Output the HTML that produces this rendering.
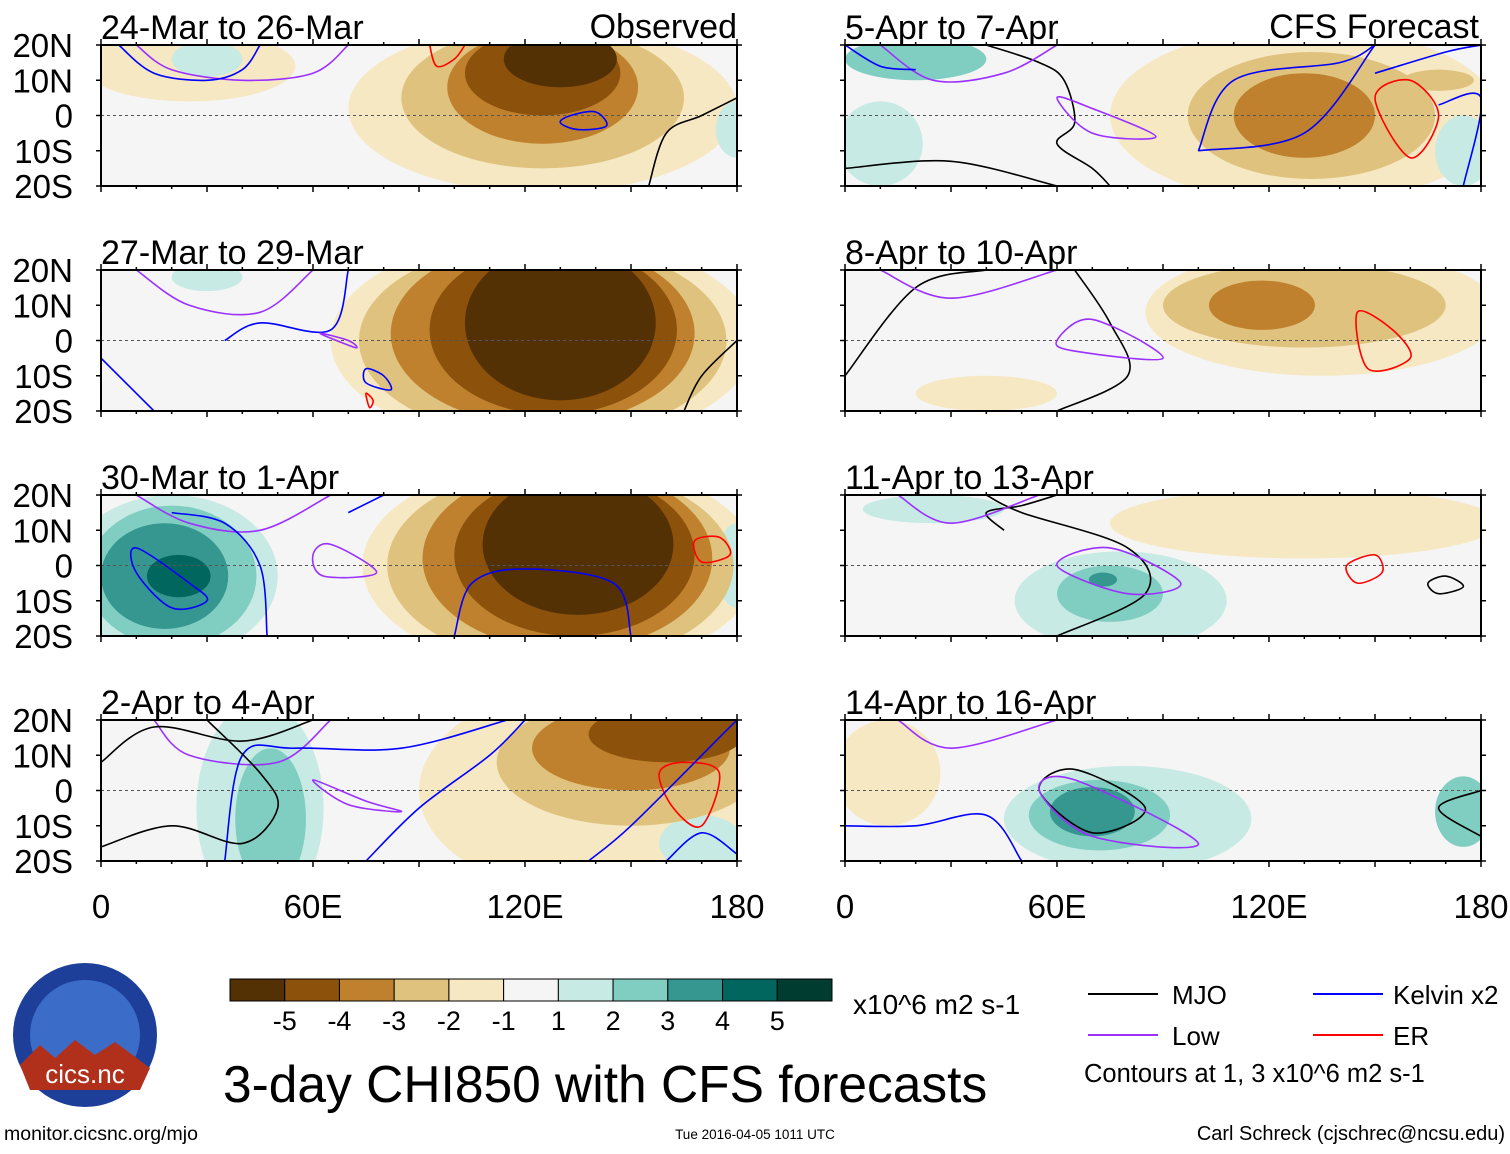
<!DOCTYPE html>
<html><head><meta charset="utf-8">
<style>
body{margin:0;background:#fff;width:1510px;height:1149px;overflow:hidden;font-family:"Liberation Sans",sans-serif}
svg text{font-family:"Liberation Sans",sans-serif}
</style></head>
<body>
<svg id="fig" width="1510" height="1149" viewBox="0 0 1510 1149" xmlns="http://www.w3.org/2000/svg"></svg>
<script>
const levelColors=["#543005","#8c510a","#bf812d","#dfc27d","#f6e8c3","#f5f5f5","#c7eae5","#80cdc1","#35978f","#01665e","#003c30"];
const colorbarLabels=["-5","-4","-3","-2","-1","1","2","3","4","5"];
const panelTitles=["24-Mar to 26-Mar","27-Mar to 29-Mar","30-Mar to 1-Apr","2-Apr to 4-Apr","5-Apr to 7-Apr","8-Apr to 10-Apr","11-Apr to 13-Apr","14-Apr to 16-Apr"];
const latTicks=[20,10,0,-10,-20];
const latLabels=["20N","10N","0","10S","20S"];
const lonTicks=[0,60,120,180];
const lonLabels=["0","60E","120E","180"];
const blobs0=[[25,14,30,10,-1],[125,2,55,24,-1],[125,5,40,20,-2],[125,8,27,16,-3],[125,12,22,12,-4],[130,16,16,8,-5],[30,16,10,5,1],[180,-4,6,8,1]];
const blobs1=[[125,0,60,30,-1],[125,0,52,28,-2],[125,2,43,26,-3],[128,3,35,24,-4],[130,5,27,22,-5],[30,18,10,4,1]];
const blobs2=[[20,-3,30,23,1],[20,-3,24,20,2],[18,-3,18,15,3],[22,-3,9,6,4],[130,0,56,30,-1],[130,0,49,28,-2],[132,2,41,26,-3],[134,3,34,23,-4],[135,6,27,20,-5],[180,0,6,12,1]];
const blobs3=[[45,-5,18,30,1],[48,-8,10,20,2],[140,0,50,30,-1],[150,8,38,18,-2],[150,12,28,12,-3],[160,16,22,8,-4],[170,-15,12,8,1]];
const blobs4=[[130,0,55,25,-1],[132,0,35,18,-2],[130,0,20,12,-3],[20,16,20,6,2],[10,-8,12,12,1],[175,-10,8,10,1],[168,10,10,3,-2]];
const blobs5=[[135,8,50,18,-1],[130,10,40,12,-2],[118,10,15,7,-3],[40,-15,20,5,-1]];
const blobs6=[[78,-10,30,14,1],[75,-8,15,8,2],[73,-4,4,2,3],[130,12,55,10,-1],[25,16,20,4,1]];
const blobs7=[[80,-8,35,15,1],[72,-7,20,10,2],[70,-6,12,7,3],[12,5,15,15,-1],[175,-6,8,10,2],[175,-5,6,6,1]];
const panelBlobs=[blobs0,blobs1,blobs2,blobs3,blobs4,blobs5,blobs6,blobs7];
const lines0=[["low",[[10,20],[20,13],[40,10],[60,12],[70,20]]],["kel",[[5,20],[15,12],[30,10],[40,13],[45,20]]],["kel",[[130,-2],[135,-4],[143,-3],[140,1],[133,0],[130,-2]]],["mjo",[[180,5],[170,0],[160,-5],[155,-20]]],["er",[[93,20],[95,14],[100,16],[103,20]]]];
const lines1=[["low",[[10,20],[25,10],[45,8],[60,20]]],["kel",[[0,-5],[15,-20]]],["kel",[[35,0],[45,5],[65,3],[70,20]]],["low",[[62,2],[70,0],[72,-2],[62,2]]],["kel",[[75,-8],[80,-10],[82,-14],[75,-12],[75,-8]]],["mjo",[[180,0],[170,-10],[165,-20]]],["er",[[75,-15],[77,-17],[76,-19],[75,-15]]]];
const lines2=[["low",[[10,20],[25,12],[45,10],[65,20]]],["kel",[[10,5],[25,-5],[30,-10],[20,-12],[10,-2],[10,5]]],["kel",[[20,15],[35,12],[45,0],[47,-20]]],["kel",[[70,15],[80,20]]],["kel",[[100,-20],[105,-5],[120,-1],[145,-5],[150,-20]]],["low",[[60,3],[65,6],[78,-2],[63,-3],[60,3]]],["er",[[168,7],[175,8],[178,3],[170,1],[168,7]]]];
const lines3=[["low",[[15,20],[25,10],[50,8],[65,20]]],["kel",[[35,-20],[40,10],[55,12],[85,12],[115,20]]],["kel",[[75,-20],[90,-5],[110,10],[120,20]]],["mjo",[[0,-16],[20,-10],[40,-15],[50,-5],[45,5],[30,20]]],["mjo",[[0,8],[15,18],[40,14],[60,20]]],["low",[[60,3],[75,-3],[85,-6],[70,-4],[60,3]]],["er",[[158,5],[165,8],[175,5],[170,-10],[162,-5],[158,5]]],["kel",[[138,-20],[150,-10],[175,15],[180,20]]],["kel",[[160,-20],[170,-12],[180,-18]]]];
const lines4=[["mjo",[[0,-15],[30,-13],[60,-20]]],["mjo",[[40,20],[55,15],[62,10],[65,-2],[60,-8],[70,-15],[75,-20]]],["low",[[10,20],[25,10],[45,12],[60,20]]],["low",[[60,5],[70,2],[88,-6],[70,-5],[60,5]]],["kel",[[0,20],[10,14],[20,13]]],["kel",[[100,-10],[110,10],[140,15],[150,20]]],["kel",[[100,-10],[130,-5],[150,20]]],["kel",[[150,12],[170,18],[180,20]]],["kel",[[168,3],[180,5],[175,-20]]],["er",[[150,5],[160,10],[168,0],[160,-12],[150,5]]]];
const lines5=[["mjo",[[0,-10],[20,15],[40,20]]],["mjo",[[60,-20],[80,-10],[75,5],[65,20]]],["low",[[10,20],[30,12],[60,20]]],["low",[[60,0],[70,6],[90,-5],[65,-3],[60,0]]],["er",[[145,8],[155,3],[160,-5],[148,-8],[145,8]]]];
const lines6=[["mjo",[[40,20],[50,15],[80,5],[85,-8],[60,-20]]],["mjo",[[45,10],[40,15],[50,17],[60,20]]],["low",[[15,20],[30,12],[55,20]]],["low",[[60,0],[75,5],[95,-5],[80,-8],[60,0]]],["er",[[142,0],[150,3],[152,-2],[145,-5],[142,0]]],["mjo",[[165,-5],[170,-3],[175,-6],[168,-8],[165,-5]]]];
const lines7=[["low",[[15,20],[30,12],[60,20]]],["mjo",[[55,0],[65,6],[85,-5],[70,-12],[55,0]]],["low",[[55,0],[65,3],[100,-15],[70,-13],[55,0]]],["kel",[[0,-10],[20,-10],[40,-7],[50,-20]]],["mjo",[[180,0],[168,-5],[180,-13]]]];
const panelLines=[lines0,lines1,lines2,lines3,lines4,lines5,lines6,lines7];
const lineColors={mjo:"#000000",low:"#9b30ff",kel:"#0000ff",er:"#ff0000"};

const NS="http://www.w3.org/2000/svg";
const svg=document.getElementById('fig');
function mk(tag,attrs,parent){const e=document.createElementNS(NS,tag);for(const k in attrs)e.setAttribute(k,attrs[k]);(parent||svg).appendChild(e);return e;}
const PW=636,PH=141;
const colX=[101,845],rowY=[45,270,495,720];
function xS(x0,lon){return x0+lon/180*PW;}
function yS(y0,lat){return y0+(20-lat)/40*PH;}
function smooth(pts,closed){
  const n=pts.length;let d='M'+pts[0][0].toFixed(1)+','+pts[0][1].toFixed(1);
  for(let i=0;i<n-1;i++){
    const p0=pts[i>0?i-1:(closed?n-2:0)],p1=pts[i],p2=pts[i+1],p3=pts[i+2<n?i+2:(closed?1:n-1)];
    const c1=[p1[0]+(p2[0]-p0[0])/6,p1[1]+(p2[1]-p0[1])/6],c2=[p2[0]-(p3[0]-p1[0])/6,p2[1]-(p3[1]-p1[1])/6];
    d+=' C'+c1[0].toFixed(1)+','+c1[1].toFixed(1)+' '+c2[0].toFixed(1)+','+c2[1].toFixed(1)+' '+p2[0].toFixed(1)+','+p2[1].toFixed(1);
  }
  return d;
}
for(let p=0;p<8;p++){
  const x0=colX[p<4?0:1],y0=rowY[p%4];
  const g=mk('g',{});
  
  
  const cid='clip'+p;
  const cp=mk('clipPath',{id:cid},g);mk('rect',{x:x0,y:y0,width:PW,height:PH},cp);
  mk('rect',{x:x0,y:y0,width:PW,height:PH,fill:levelColors[5]},g);
  const fg=mk('g',{'clip-path':'url(#'+cid+')'},g);
  const bl=panelBlobs[p].slice().sort((a,b)=>Math.abs(a[4])-Math.abs(b[4]));
  bl.forEach(b=>{
    const e=mk('ellipse',{cx:xS(x0,b[0]),cy:yS(y0,b[1]),rx:b[2]/180*PW,ry:b[3]/40*PH,fill:levelColors[b[4]+5]},fg);
    
    
  });
  mk('line',{x1:x0,x2:x0+PW,y1:yS(y0,0),y2:yS(y0,0),stroke:'#555','stroke-dasharray':'3,3','stroke-width':1},fg);
  panelLines[p].forEach(l=>{
    const pts=l[1].map(q=>[xS(x0,q[0]),yS(y0,q[1])]);
    const first=l[1][0],last=l[1][l[1].length-1];
    const closed=first[0]==last[0]&&first[1]==last[1];
    const pa=mk('path',{d:smooth(pts,closed),fill:'none',stroke:lineColors[l[0]],'stroke-width':1.6,'stroke-linejoin':'round'},fg);
    
    
  });
  mk('rect',{x:x0,y:y0,width:PW,height:PH,fill:'none',stroke:'#000','stroke-width':2},g);
  for(let lon=0;lon<=180;lon+=10){const x=xS(x0,lon),L=lon%30==0?6:3;mk('line',{x1:x,x2:x,y1:y0,y2:y0-L,stroke:'#000','stroke-width':1.5},g);mk('line',{x1:x,x2:x,y1:y0+PH,y2:y0+PH+L,stroke:'#000','stroke-width':1.5},g);}
  latTicks.forEach(t=>{const y=yS(y0,t);mk('line',{x1:x0-5,x2:x0,y1:y,y2:y,stroke:'#000','stroke-width':1.5},g);mk('line',{x1:x0+PW,x2:x0+PW+5,y1:y,y2:y,stroke:'#000','stroke-width':1.5},g);});
  const t=mk('text',{x:x0,y:y0-6,'font-size':34},g);t.textContent=panelTitles[p];
  
  if(p<4){latTicks.forEach((v,i)=>{const tt=mk('text',{x:73,y:yS(y0,v)+12,'font-size':33,'text-anchor':'end'},g);tt.textContent=latLabels[i];
    });}
  if(p%4==3){lonTicks.forEach((v,i)=>{const tt=mk('text',{x:xS(x0,v),y:918,'font-size':33,'text-anchor':'middle'},g);tt.textContent=lonLabels[i];
    });}
}
const o1=mk('text',{x:737,y:38,'font-size':34,'text-anchor':'end'});o1.textContent='Observed';

const o2=mk('text',{x:1479,y:38,'font-size':34,'text-anchor':'end'});o2.textContent='CFS Forecast';


const cb=mk('g',{});
const cw=602/11;
levelColors.forEach((c,i)=>{mk('rect',{x:230+i*cw,y:979,width:cw,height:22,fill:c,stroke:'#000','stroke-width':1},cb);});
colorbarLabels.forEach((s,i)=>{const t=mk('text',{x:230+(i+1)*cw,y:1030,'font-size':27,'text-anchor':'middle'},cb);t.textContent=s;});
const un=mk('text',{x:853,y:1014,'font-size':28});un.textContent='x10^6 m2 s-1';

const ti=mk('text',{x:223,y:1102,'font-size':51.5});ti.textContent='3-day CHI850 with CFS forecasts';

const lg=mk('g',{});
[["MJO","mjo",1088,1172,994],["Low","low",1088,1172,1035],["Kelvin x2","kel",1313,1393,994],["ER","er",1313,1393,1035]].forEach(a=>{
  mk('line',{x1:a[2],x2:a[2]+70,y1:a[4],y2:a[4],stroke:lineColors[a[1]],'stroke-width':2},lg);
  const t=mk('text',{x:a[3],y:a[4]+10,'font-size':26},lg);t.textContent=a[0];});
const ct=mk('text',{x:1084,y:1082,'font-size':25.5},lg);ct.textContent='Contours at 1, 3 x10^6 m2 s-1';
const lo=mk('g',{});
mk('circle',{cx:85,cy:1035,r:72,fill:'#1d3f9a'},lo);
mk('circle',{cx:85,cy:1035,r:55,fill:'#3a6cc8'},lo);
mk('path',{d:'M20,1065 L40,1045 L55,1058 L75,1040 L95,1055 L115,1042 L150,1068 L140,1090 L30,1090 Z',fill:'#b0301c'},lo);
const lt=mk('text',{x:85,y:1083,'font-size':26,fill:'#fff','text-anchor':'middle'},lo);lt.textContent='cics.nc';
const f1=mk('text',{x:4,y:1140,'font-size':19.5});f1.textContent='monitor.cicsnc.org/mjo';

const f2=mk('text',{x:755,y:1139,'font-size':13.5,'text-anchor':'middle'});f2.textContent='Tue 2016-04-05 1011 UTC';

const f3=mk('text',{x:1505,y:1140,'font-size':20,'text-anchor':'end'});f3.textContent='Carl Schreck (cjschrec@ncsu.edu)';

</script>
</body></html>
